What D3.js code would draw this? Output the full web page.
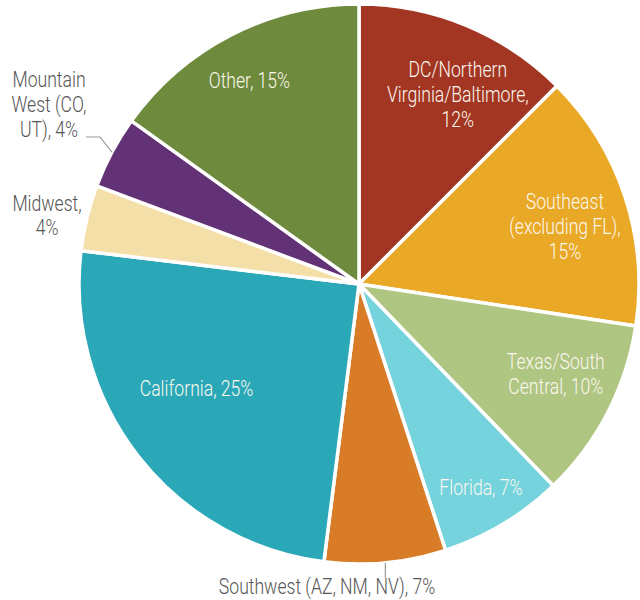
<!DOCTYPE html>
<html>
<head>
<meta charset="utf-8">
<script src="https://cdn.jsdelivr.net/npm/d3@7"></script>
<style>
  body { margin: 0; background: #fff; }
  text { font-family: "Roboto", "Liberation Sans", sans-serif; font-weight: 300; }
</style>
</head>
<body>
<svg id="chart" width="640" height="600"></svg>
<script>
// regions, clockwise from 12 o'clock
const regions = ["DC/Northern Virginia/Baltimore", "Southeast (excluding FL)", "Texas/South Central",
  "Florida", "Southwest (AZ, NM, NV)", "California", "Midwest", "Mountain West (CO, UT)", "Other"];
const shares = [12.5, 14.9, 10.4, 7.2, 7.0, 24.9, 3.8, 4.2, 15.1];
const labelLines = [
  ["DC/Northern", "Virginia/Baltimore,", "12%"],
  ["Southeast", "(excluding FL),", "15%"],
  ["Texas/South", "Central, 10%"],
  ["Florida, 7%"],
  ["Southwest (AZ, NM, NV), 7%"],
  ["California, 25%"],
  ["Midwest,", "4%"],
  ["Mountain", "West (CO,", "UT), 4%"],
  ["Other, 15%"]
];
const colors = ["#a23623", "#e9a825", "#afc582", "#74d3dd", "#d87c27", "#2aa8b8", "#f5dfa8", "#633176", "#6e8a3d"];

const svg = d3.select("#chart"),
  cx = 359, cy = 284, R = 280, lineH = 25, squeeze = 0.8;

// inside label placement: radius + angle nudge (deg); null = outside label
const inside = [[214, 5], [214, 2.4], [216, -3], [237, 0], null, [193, 5.3], null, null, [232, -1]];

const data = regions.map((r, i) => ({region: r, value: shares[i], lines: labelLines[i], color: colors[i], place: inside[i]}));

const pie = d3.pie().sort(null).value(d => d.value);
const arcs = pie(data);
const arc = d3.arc().innerRadius(0).outerRadius(R);

const g = svg.append("g").attr("transform", `translate(${cx},${cy})`);

g.selectAll("path.slice").data(arcs).enter().append("path")
  .attr("class", "slice")
  .attr("d", arc)
  .attr("fill", d => d.data.color)
  .attr("stroke", "#fff")
  .attr("stroke-width", 3.5)
  .attr("stroke-linejoin", "round");

function polar(r, a) { return [Math.sin(a) * r, -Math.cos(a) * r]; }

// condensed look: squeeze the glyphs horizontally around the anchor
function block(sel, lines, x, yMid, color) {
  const t = sel.append("text").attr("text-anchor", "middle").attr("fill", color)
    .attr("font-size", 22)
    .attr("transform", `translate(${x},${yMid}) scale(${squeeze},1)`);
  lines.forEach((s, i) => {
    t.append("tspan").attr("x", 0).attr("y", (i - (lines.length - 1) / 2) * lineH + 8).text(s);
  });
}

arcs.forEach(d => {
  if (!d.data.place) return;
  const mid = (d.startAngle + d.endAngle) / 2 + d.data.place[1] * Math.PI / 180;
  const [x, y] = polar(d.data.place[0], mid);
  block(g, d.data.lines, x, y, "#fbf8ee");
});

// outside labels with leaders
const grey = "#555", leader = "#999";
const sw = arcs[4], mw = arcs[6], mtn = arcs[7];

let a = (sw.startAngle + sw.endAngle) / 2;
let [x0, y0] = polar(R, a);
g.append("path").attr("d", d3.line()([[x0, y0], [x0, y0 + 15]])).attr("stroke", leader).attr("stroke-width", 1.2).attr("fill", "none");
block(g, sw.data.lines, 327 - cx, 586 - cy, grey);

a = (mtn.startAngle + mtn.endAngle) / 2;
[x0, y0] = polar(R, a);
g.append("path").attr("d", d3.line()([[x0, y0], [100 - cx, 137 - cy], [86 - cx, 137 - cy]]))
  .attr("stroke", leader).attr("stroke-width", 1.2).attr("fill", "none");
block(g, mtn.data.lines, 49 - cx, 104 - cy, grey);

block(g, mw.data.lines, 47 - cx, 215 - cy, grey);
</script>
</body>
</html>
